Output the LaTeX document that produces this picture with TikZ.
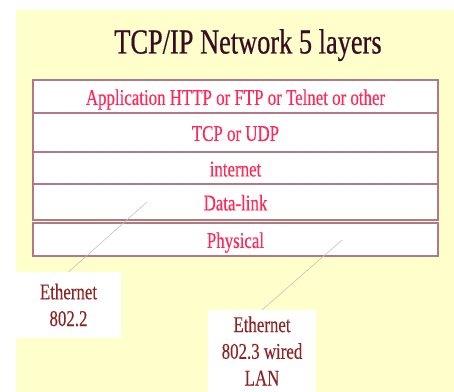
\documentclass[tikz,border=0pt]{standalone}
\usepackage{graphicx}
\usepackage{fontspec}
\setmainfont{Liberation Serif}
\newfontface\heavyserif{Liberation Serif}[FakeBold=0.6]
\newfontface\midserif{Liberation Serif}[FakeBold=0.3]
\definecolor{panelyellow}{HTML}{FFFFCC}
\definecolor{titlemaroon}{HTML}{3B0B24}
\definecolor{layerred}{HTML}{FF2858}
\definecolor{layerrim}{HTML}{B07888}
\definecolor{labelbrown}{HTML}{8B2525}
\newcommand{\sqz}[1]{\scalebox{0.75}[1]{#1}}

\begin{document}
\begin{tikzpicture}[x=0.025cm, y=-0.025cm,
    layer/.style={draw=layerrim, line width=0.8pt, fill=white, inner sep=0pt, outer sep=0pt,
        minimum width=10.125cm, text=layerred, font=\midserif\fontsize{16}{19}\selectfont,
        text height=15pt, text depth=3pt},
    tag/.style={fill=white, inner sep=0pt, outer sep=0pt, text=labelbrown, align=center,
        font=\midserif\fontsize{16}{19}\selectfont},
    pointer/.style={gray!50, line width=0.4pt}]
\useasboundingbox (0,0) rectangle (454,392);
\fill[panelyellow] (16,10) rectangle (454,392);

\node[anchor=base, text=titlemaroon, font=\heavyserif\fontsize{25}{30}\selectfont] (T) at (248,53.5) {\sqz{TCP/IP Network 5 layers}};

\node[layer, minimum height=0.825cm] (A) at (235.5,96.5) {\sqz{Application HTTP or FTP or Telnet or other}};
\node[layer, minimum height=0.975cm] (U) at (235.5,132.5) {\sqz{TCP or UDP}};
\node[layer, minimum height=0.8cm] (I) at (235.5,168) {\sqz{internet}};
\node[layer, minimum height=0.9cm] (D) at (235.5,202) {\sqz{Data-link}};
\node[layer, minimum height=0.825cm] (P) at (235.5,239.5) {\sqz{Physical}};

\node[tag, minimum width=2.625cm, minimum height=1.65cm] (E1) at (68.5,305) {\sqz{Ethernet}\\\sqz{802.2}};
\node[tag, minimum width=2.7cm, minimum height=2.05cm] (E2) at (262,351) {\sqz{Ethernet}\\\sqz{802.3 wired}\\\sqz{LAN}};

\coordinate (d1) at (147,202);
\coordinate (d2) at (342,240);
\draw[pointer] (E1.north) -- (d1);
\draw[pointer] (E2.north) -- (d2);
\end{tikzpicture}
\end{document}
